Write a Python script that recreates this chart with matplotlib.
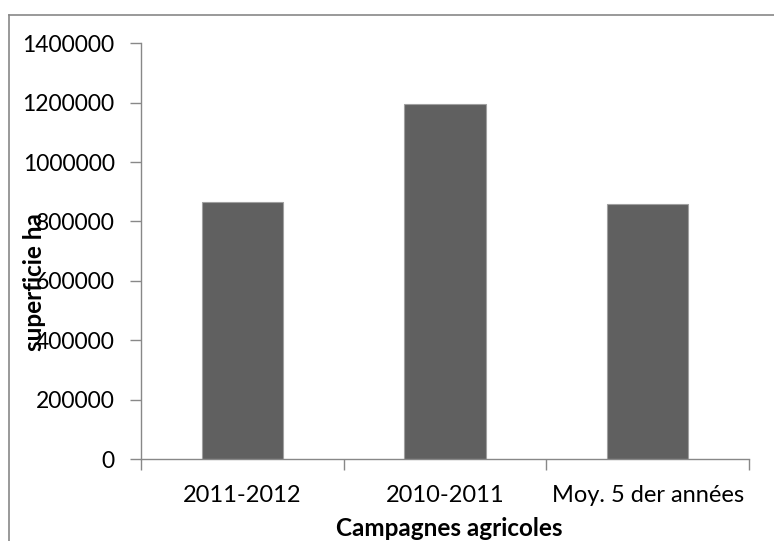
import matplotlib
matplotlib.use("Agg")
import matplotlib.pyplot as plt
from matplotlib.lines import Line2D

categories = ["2011-2012", "2010-2011", "Moy. 5 der années"]
values = [865000, 1195000, 858000]
yticks = [0, 200000, 400000, 600000, 800000, 1000000, 1200000, 1400000]

plt.rcParams['font.family'] = ['Lato', 'DejaVu Sans']

W, H = 774, 541
fig = plt.figure(figsize=(W / 100, H / 100), dpi=100)
ax = fig.add_axes([141 / W, 1 - 459 / H, (749 - 141) / W, (459 - 43.3) / H])

x = list(range(len(categories)))
ax.bar(x, values, width=0.4, color="#606060", edgecolor="#a0a0a0", linewidth=0.8, zorder=2)
ax.set_xlim(-0.5, len(categories) - 0.5)
ax.set_ylim(0, 1400000)
ax.set_yticks(yticks)
ax.set_yticklabels([str(v) for v in yticks], fontsize=16.5)
ax.set_xticks(x)
ax.set_xticklabels(categories, fontsize=17)
ax.xaxis.set_minor_locator(matplotlib.ticker.FixedLocator([-0.5, 0.5, 1.5, 2.5]))
ax.tick_params(axis='x', which='major', length=0, pad=19)
ax.tick_params(axis='x', which='minor', length=8, color="#888888", width=1)
ax.tick_params(axis='y', length=8, color="#888888", width=1, pad=11)
for s in ["top", "right"]:
    ax.spines[s].set_visible(False)
for s in ["left", "bottom"]:
    ax.spines[s].set_color("#888888")
    ax.spines[s].set_linewidth(1)

fig.text(34 / W, 1 - 282 / H, "superficie ha", rotation=90, ha="center", va="center",
         fontsize=17.5, fontweight="bold")
fig.text(449 / W, 1 - 529 / H, "Campagnes agricoles", ha="center", va="center",
         fontsize=17.5, fontweight="bold")

# outer chart border (cut at right and bottom)
fig.add_artist(Line2D([9 / W, 9 / W], [0, 1 - 15 / H], transform=fig.transFigure,
                      color="#888888", linewidth=1.2))
fig.add_artist(Line2D([9 / W, 1], [1 - 15 / H, 1 - 15 / H], transform=fig.transFigure,
                      color="#888888", linewidth=1.2))

fig.savefig("out.png", dpi=100)
